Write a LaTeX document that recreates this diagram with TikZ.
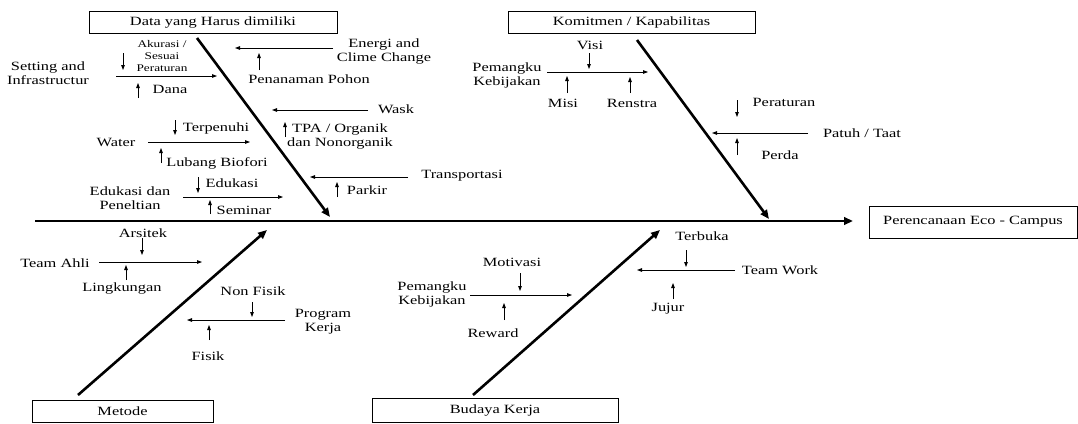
\documentclass[tikz,border=0pt]{standalone}
\usepackage{fontspec}
\setmainfont{Liberation Serif}[FakeStretch=1.3]
\usetikzlibrary{arrows.meta}
\begin{document}
\begin{tikzpicture}[x=1pt,y=-1pt,
  lbl/.style={font=\fontsize{12.6}{14}\selectfont, align=center, inner sep=0pt},
  sml/.style={font=\fontsize{10.2}{12.2}\selectfont, align=center, inner sep=0pt},
  box/.style={draw, line width=0.6pt, inner sep=0pt, font=\fontsize{12.6}{14}\selectfont},
  bone/.style={line width=2.6pt, -{Triangle[length=9pt,width=7.5pt]}},
  subarrow/.style={line width=0.8pt, -{Triangle[length=5pt,width=3.6pt]}}]
\useasboundingbox (0,0) rectangle (1078,423);
% boxes
\node[box, minimum width=248pt, minimum height=22pt] (data) at (213,22) {Data yang Harus dimiliki};
\node[box, minimum width=247pt, minimum height=22pt] (komit) at (631.5,22) {Komitmen / Kapabilitas};
\node[box, minimum width=208pt, minimum height=32pt] (effect) at (973,222) {Perencanaan Eco - Campus};
\node[box, minimum width=181pt, minimum height=22pt] (metode) at (122.5,411) {Metode};
\node[box, minimum width=246pt, minimum height=24pt] (budaya) at (495,410) {Budaya Kerja};
% spine and bones
\coordinate (sp0) at (35,221);
\coordinate (sp1) at (853,221);
\draw[bone] (sp0) -- (sp1);
\coordinate (b1s) at (197,38); \coordinate (b1e) at (330,217);
\coordinate (b2s) at (637,40); \coordinate (b2e) at (769,219);
\coordinate (b3s) at (78,395); \coordinate (b3e) at (267,230);
\coordinate (b4s) at (473,395); \coordinate (b4e) at (660,230);
\draw[bone] (b1s) -- (b1e);
\draw[bone] (b2s) -- (b2e);
\draw[bone] (b3s) -- (b3e);
\draw[bone] (b4s) -- (b4e);
% ---- Data yang Harus dimiliki
\node[lbl] (setting) at (48,73) {Setting and\\Infrastructur};
\coordinate (s1) at (116,76); \coordinate (s2) at (217,76);
\draw[subarrow] (s1) -- (s2);
\node[sml] (akurasi) at (162,56) {Akurasi /\\Sesuai\\Peraturan};
\coordinate (a1) at (123,53); \coordinate (a2) at (123,70);
\draw[subarrow] (a1) -- (a2);
\node[lbl] (dana) at (170,89) {Dana};
\coordinate (d1) at (138,98); \coordinate (d2) at (138,83);
\draw[subarrow] (d1) -- (d2);

\node[lbl] (water) at (116,142) {Water};
\coordinate (w1) at (148,142); \coordinate (w2) at (250,142);
\draw[subarrow] (w1) -- (w2);
\node[lbl] (terpenuhi) at (216,128) {Terpenuhi};
\coordinate (t1) at (175,120); \coordinate (t2) at (175,135);
\draw[subarrow] (t1) -- (t2);
\node[lbl] (lubang) at (217,163) {Lubang Biofori};
\coordinate (l1) at (161,163); \coordinate (l2) at (161,148);
\draw[subarrow] (l1) -- (l2);

\node[lbl] (edukasidan) at (130,198) {Edukasi dan\\Peneltian};
\coordinate (e1) at (183,197); \coordinate (e2) at (283,197);
\draw[subarrow] (e1) -- (e2);
\node[lbl] (edukasi) at (232,183) {Edukasi};
\coordinate (ed1) at (198,177); \coordinate (ed2) at (198,193);
\draw[subarrow] (ed1) -- (ed2);
\node[lbl] (seminar) at (244,210) {Seminar};
\coordinate (se1) at (210,214); \coordinate (se2) at (210,200);
\draw[subarrow] (se1) -- (se2);

\node[lbl] (energi) at (384,51) {Energi and\\Clime Change};
\coordinate (en1) at (333,48); \coordinate (en2) at (235,48);
\draw[subarrow] (en1) -- (en2);
\node[lbl] (pohon) at (309,79) {Penanaman Pohon};
\coordinate (p1) at (259,70); \coordinate (p2) at (259,53);
\draw[subarrow] (p1) -- (p2);

\node[lbl] (wask) at (396,109) {Wask};
\coordinate (wa1) at (368,110); \coordinate (wa2) at (272,110);
\draw[subarrow] (wa1) -- (wa2);
\node[lbl] (tpa) at (340,136) {TPA / Organik\\dan Nonorganik};
\coordinate (tp1) at (285,137); \coordinate (tp2) at (285,122);
\draw[subarrow] (tp1) -- (tp2);

\node[lbl] (transport) at (462,176) {Transportasi};
\coordinate (tr1) at (408,177); \coordinate (tr2) at (310,177);
\draw[subarrow] (tr1) -- (tr2);
\node[lbl] (parkir) at (367,190) {Parkir};
\coordinate (pk1) at (337,197); \coordinate (pk2) at (337,182);
\draw[subarrow] (pk1) -- (pk2);
% ---- Komitmen / Kapabilitas
\node[lbl] (pemangku1) at (507,75) {Pemangku\\Kebijakan};
\coordinate (pm1) at (547,72); \coordinate (pm2) at (648,72);
\draw[subarrow] (pm1) -- (pm2);
\node[lbl] (visi) at (590,45) {Visi};
\coordinate (v1) at (589,53); \coordinate (v2) at (589,69);
\draw[subarrow] (v1) -- (v2);
\node[lbl] (misi) at (563,103) {Misi};
\coordinate (m1) at (567,93); \coordinate (m2) at (567,76);
\draw[subarrow] (m1) -- (m2);
\node[lbl] (renstra) at (632,103) {Renstra};
\coordinate (r1) at (630,93); \coordinate (r2) at (630,77);
\draw[subarrow] (r1) -- (r2);

\node[lbl] (peraturan) at (784,102) {Peraturan};
\coordinate (pr1) at (737,100); \coordinate (pr2) at (737,117);
\draw[subarrow] (pr1) -- (pr2);
\node[lbl] (patuh) at (862,133) {Patuh / Taat};
\coordinate (pt1) at (808,133); \coordinate (pt2) at (712,133);
\draw[subarrow] (pt1) -- (pt2);
\node[lbl] (perda) at (780,155) {Perda};
\coordinate (pd1) at (737,155); \coordinate (pd2) at (737,138);
\draw[subarrow] (pd1) -- (pd2);
% ---- Metode
\node[lbl] (arsitek) at (143,233) {Arsitek};
\coordinate (ar1) at (142,238); \coordinate (ar2) at (142,255);
\draw[subarrow] (ar1) -- (ar2);
\node[lbl] (teamahli) at (55,263) {Team Ahli};
\coordinate (ta1) at (99,262); \coordinate (ta2) at (202,262);
\draw[subarrow] (ta1) -- (ta2);
\node[lbl] (lingkungan) at (122,288) {Lingkungan};
\coordinate (li1) at (126,280); \coordinate (li2) at (126,265);
\draw[subarrow] (li1) -- (li2);

\node[lbl] (nonfisik) at (253,291) {Non Fisik};
\coordinate (nf1) at (252,302); \coordinate (nf2) at (252,317);
\draw[subarrow] (nf1) -- (nf2);
\node[lbl] (program) at (323,322) {Program\\Kerja};
\coordinate (pg1) at (285,320); \coordinate (pg2) at (187,320);
\draw[subarrow] (pg1) -- (pg2);
\node[lbl] (fisik) at (208,356) {Fisik};
\coordinate (fi1) at (209,340); \coordinate (fi2) at (209,325);
\draw[subarrow] (fi1) -- (fi2);
% ---- Budaya Kerja
\node[lbl] (terbuka) at (702,236) {Terbuka};
\coordinate (tb1) at (686,250); \coordinate (tb2) at (686,267);
\draw[subarrow] (tb1) -- (tb2);
\node[lbl] (teamwork) at (780,270) {Team Work};
\coordinate (tw1) at (735,270); \coordinate (tw2) at (637,270);
\draw[subarrow] (tw1) -- (tw2);
\node[lbl] (jujur) at (668,309) {Jujur};
\coordinate (jj1) at (673,299); \coordinate (jj2) at (673,283);
\draw[subarrow] (jj1) -- (jj2);

\node[lbl] (motivasi) at (512,262) {Motivasi};
\coordinate (mo1) at (520,273); \coordinate (mo2) at (520,291);
\draw[subarrow] (mo1) -- (mo2);
\node[lbl] (pemangku2) at (432,294) {Pemangku\\Kebijakan};
\coordinate (pk21) at (470,295); \coordinate (pk22) at (572,295);
\draw[subarrow] (pk21) -- (pk22);
\node[lbl] (reward) at (493,333) {Reward};
\coordinate (rw1) at (504,320); \coordinate (rw2) at (504,303);
\draw[subarrow] (rw1) -- (rw2);
\end{tikzpicture}
\end{document}
